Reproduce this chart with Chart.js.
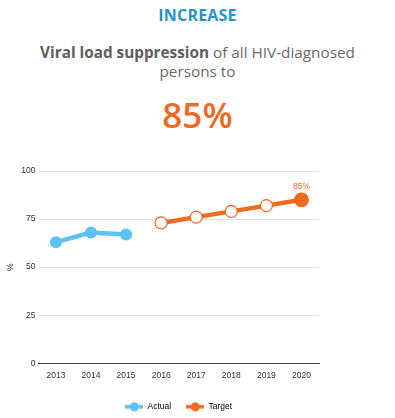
<!DOCTYPE html>
<html>
<head>
<meta charset="utf-8">
<script src="https://cdn.jsdelivr.net/npm/chart.js@4.4.0/dist/chart.umd.min.js"></script>
<style>
  html, body { margin: 0; padding: 0; background: #fff; }
  body { width: 395px; height: 418px; position: relative; overflow: hidden; font-family: "Open Sans", sans-serif; }
  .head { position: absolute; left: 0; width: 395px; text-align: center; }
  #kicker { top: 4px; font-size: 16px; font-weight: 700; color: #2a93cf; letter-spacing: 0.2px; }
  #lead { top: 43px; font-size: 15.3px; line-height: 19px; color: #6b6b6b; }
  #lead b { color: #5e5e5e; }
  #big { top: 91px; font-size: 35px; font-weight: 600; color: #ee6a1f; }
  #wrap { position: absolute; left: 0; top: 150px; width: 395px; height: 275px; }
</style>
</head>
<body>
<div class="head" id="kicker">INCREASE</div>
<div class="head" id="lead"><b>Viral load suppression</b> of all HIV-diagnosed<br>persons to</div>
<div class="head" id="big">85%</div>
<div id="wrap"><canvas id="chart"></canvas></div>
<script>
const years = ['2013', '2014', '2015', '2016', '2017', '2018', '2019', '2020'];
const actual = [63, 68, 67, null, null, null, null, null];
const target = [null, null, null, 73, 76, 79, 82, 85];
const yTicks = [0, 25, 50, 75, 100];

const BLUE = '#5cc3f4';
const ORANGE = '#ee6a1f';
const FONT = '"Liberation Sans", sans-serif';

// little "line with a dot" swatch for the legend
function swatch(color) {
    const c = document.createElement('canvas');
    c.width = 18; c.height = 10;
    const ctx = c.getContext('2d');
    ctx.strokeStyle = color;
    ctx.lineWidth = 3.5;
    ctx.beginPath(); ctx.moveTo(0, 5); ctx.lineTo(18, 5); ctx.stroke();
    ctx.fillStyle = color;
    ctx.beginPath(); ctx.arc(9, 5, 4.5, 0, Math.PI * 2); ctx.fill();
    return c;
}

// writes the value above the last target point
const endLabel = {
    id: 'endLabel',
    afterDatasetsDraw(chart) {
        const meta = chart.getDatasetMeta(1);
        const i = target.length - 1;
        const pt = meta.data[i];
        const ctx = chart.ctx;
        ctx.save();
        ctx.fillStyle = ORANGE;
        ctx.font = '8.5px ' + FONT;
        ctx.textAlign = 'center';
        ctx.textBaseline = 'bottom';
        ctx.fillText(target[i] + '%', pt.x, pt.y - 9);
        ctx.restore();
    }
};

new Chart(document.getElementById('chart'), {
    type: 'line',
    data: {
        labels: years,
        datasets: [
            {
                label: 'Actual',
                data: actual,
                borderColor: BLUE,
                backgroundColor: BLUE,
                borderWidth: 4.5,
                pointRadius: 6,
                pointBorderWidth: 0,
                spanGaps: false
            },
            {
                label: 'Target',
                data: target,
                borderColor: ORANGE,
                backgroundColor: ORANGE,
                borderWidth: 4.5,
                pointBackgroundColor: target.map((v, i) => i === target.length - 1 ? ORANGE : '#fff'),
                pointBorderColor: ORANGE,
                pointRadius: target.map((v, i) => i === target.length - 1 ? 6.8 : 6),
                pointBorderWidth: 1.2,
                spanGaps: false
            }
        ]
    },
    plugins: [endLabel],
    options: {
        responsive: true,
        maintainAspectRatio: false,
        animation: false,
        layout: { padding: { left: 0, right: 76, top: 21, bottom: 4 } },
        plugins: {
            legend: {
                position: 'bottom',
                fullSize: false,
                labels: {
                    usePointStyle: true,
                    pointStyleWidth: 18,
                    boxHeight: 10,
                    padding: 15,
                    color: '#333',
                    font: { family: FONT, size: 8.5 },
                    generateLabels(chart) {
                        return chart.data.datasets.map((ds, i) => ({
                            text: ds.label,
                            pointStyle: swatch(ds.borderColor),
                            fillStyle: ds.borderColor,
                            strokeStyle: ds.borderColor,
                            lineWidth: 0,
                            datasetIndex: i,
                            hidden: false
                        }));
                    }
                }
            },
            tooltip: { enabled: false }
        },
        scales: {
            x: {
                offset: true,
                grid: { display: false, drawTicks: false },
                border: { color: '#444', width: 1 },
                ticks: {
                    color: '#333',
                    padding: 7,
                    font: { family: FONT, size: 8.5 }
                }
            },
            y: {
                min: 0,
                max: 100,
                afterBuildTicks(axis) { axis.ticks = yTicks.map(v => ({ value: v })); },
                grid: { color: '#e4e4e4', lineWidth: 1, drawTicks: false },
                border: { display: false },
                title: {
                    display: true,
                    text: '%',
                    color: '#333',
                    padding: { top: 6, bottom: 2 },
                    font: { family: FONT, size: 8.5 }
                },
                ticks: {
                    color: '#333',
                    padding: 3,
                    font: { family: FONT, size: 8.5 }
                }
            }
        }
    }
});
</script>
</body>
</html>
